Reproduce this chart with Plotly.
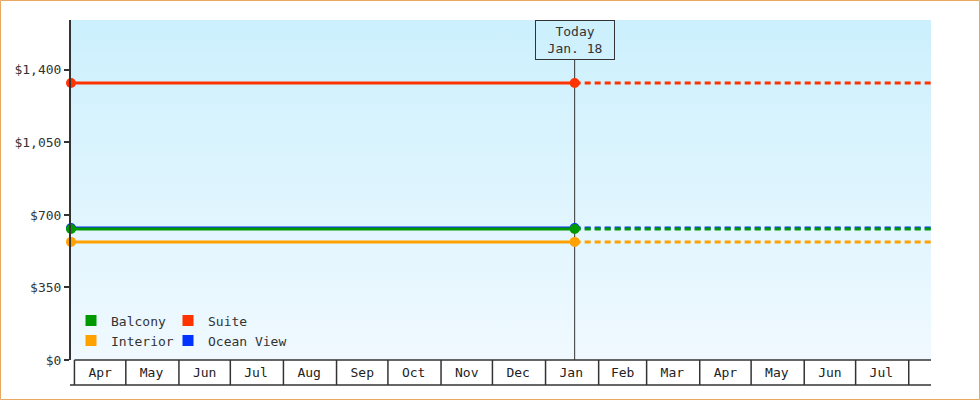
import base64
import plotly.graph_objects as go

# ---- data ----
series_names = ["Balcony", "Suite", "Interior", "Ocean View"]
series_colors = ["#009900", "#ff3300", "#ffa200", "#0033ff"]
series_values = [632, 1337, 570, 637]
start_date = "2024-03-30"
today_date = "2025-01-18"
end_date = "2025-08-14"
month_starts = ["2024-04-01", "2024-05-01", "2024-06-01", "2024-07-01", "2024-08-01",
                "2024-09-01", "2024-10-01", "2024-11-01", "2024-12-01", "2025-01-01",
                "2025-02-01", "2025-03-01", "2025-04-01", "2025-05-01", "2025-06-01",
                "2025-07-01", "2025-08-01"]
month_mids = ["2024-04-16", "2024-05-16", "2024-06-16", "2024-07-16", "2024-08-16",
              "2024-09-16", "2024-10-16", "2024-11-16", "2024-12-16", "2025-01-16",
              "2025-02-15", "2025-03-16", "2025-04-16", "2025-05-16", "2025-06-16",
              "2025-07-16"]
month_labels = ["Apr", "May", "Jun", "Jul", "Aug", "Sep", "Oct", "Nov", "Dec", "Jan",
                "Feb", "Mar", "Apr", "May", "Jun", "Jul"]
y_ticks = [0, 350, 700, 1050, 1400]
y_tick_labels = ["$0", "$350", "$700", "$1,050", "$1,400"]
y_max = 1641
today_label = "Today<br>Jan. 18"

FONT = "DejaVu Sans Mono"
W, H = 980, 400
ML, MR, MT, MB = 71, 49, 20, 40
PW, PH = W - ML - MR, H - MT - MB

fig = go.Figure()

# draw order: ocean view first so balcony covers it
draw_order = [3, 2, 1, 0]
for i in draw_order:
    name, color, v = series_names[i], series_colors[i], series_values[i]
    fig.add_trace(go.Scatter(
        x=[start_date, today_date], y=[v, v], mode="lines+markers",
        line=dict(color=color, width=3), marker=dict(color=color, size=10, symbol="circle"),
        showlegend=False, cliponaxis=False, hoverinfo="skip"))
    fig.add_trace(go.Scatter(
        x=[today_date, end_date], y=[v, v], mode="lines",
        line=dict(color=color, width=3, dash="6px,4px"),
        showlegend=False, cliponaxis=False, hoverinfo="skip"))

# legend entries: one legend per entry, arranged as a 2x2 grid
legend_ids = ["legend", "legend2", "legend3", "legend4"]
for i in range(4):
    fig.add_trace(go.Scatter(x=[None], y=[None], mode="markers", name=series_names[i],
                             marker=dict(color=series_colors[i], symbol="square", size=11),
                             legend=legend_ids[i]))

# gradient background
svg = ('<svg xmlns="http://www.w3.org/2000/svg" width="10" height="100" preserveAspectRatio="none">'
       '<defs><linearGradient id="g" x1="0" y1="0" x2="0" y2="1">'
       '<stop offset="0" stop-color="#ccf0fd"/><stop offset="1" stop-color="#f0f9ff"/>'
       '</linearGradient></defs><rect width="10" height="100" fill="url(#g)"/></svg>')
uri = "data:image/svg+xml;base64," + base64.b64encode(svg.encode()).decode()
fig.add_layout_image(dict(source=uri, xref="paper", yref="paper", x=0, y=1, sizex=1, sizey=1,
                          sizing="stretch", xanchor="left", yanchor="top", layer="below"))

shapes = []
box_h = -25 / PH
for d in month_starts:
    shapes.append(dict(type="line", xref="x", yref="paper", x0=d, x1=d, y0=0, y1=box_h,
                       line=dict(color="#333333", width=1.5)))
shapes.append(dict(type="line", xref="x", yref="paper", x0=month_starts[0], x1=end_date, y0=0, y1=0,
                   line=dict(color="#333333", width=1.5)))
shapes.append(dict(type="line", xref="paper", yref="paper", x0=-1 / PW, x1=1, y0=box_h, y1=box_h,
                   line=dict(color="#333333", width=1.5)))
shapes.append(dict(type="line", xref="x", yref="paper", x0=today_date, x1=today_date, y0=0,
                   y1=(360 - 60) / PH, line=dict(color="#333333", width=1), layer="below"))
shapes.append(dict(type="rect", xref="paper", yref="paper",
                   x0=(-ML + 0.5) / PW, x1=1 + (MR - 0.5) / PW,
                   y0=(-MB + 0.5) / PH, y1=1 + (MT - 0.5) / PH,
                   line=dict(color="#e8a860", width=1)))


def leg(x, y):
    return dict(orientation="h", x=x, y=y, xanchor="left", yanchor="top",
                bgcolor="rgba(0,0,0,0)", itemwidth=30,
                font=dict(family=FONT, size=13, color="#333333"))


col1, col2 = (71 - ML) / PW, (168 - ML) / PW
row1, row2 = (360 - 305.5) / PH, (360 - 325.5) / PH

fig.update_layout(
    width=W, height=H, margin=dict(l=ML, r=MR, t=MT, b=MB),
    paper_bgcolor="white", plot_bgcolor="rgba(0,0,0,0)",
    font=dict(family=FONT, size=13, color="#333333"),
    shapes=shapes,
    xaxis=dict(type="date", range=[start_date, end_date], showgrid=False, zeroline=False,
               showline=False, ticks="", tickmode="array", tickvals=month_mids,
               ticktext=month_labels, tickfont=dict(family=FONT, size=13, color="#222222"),
               ticklabelstandoff=3, fixedrange=True),
    yaxis=dict(range=[0, y_max], showgrid=False, zeroline=False, showline=True,
               linecolor="#333333", linewidth=2, ticks="outside", ticklen=5, tickwidth=2,
               tickcolor="#333333", tickmode="array", tickvals=y_ticks, ticktext=y_tick_labels,
               tickfont=dict(family=FONT, size=13, color="#333333"), fixedrange=True),
    legend=leg(col1, row1),
    legend2=leg(col2, row1),
    legend3=leg(col1, row2),
    legend4=leg(col2, row2),
    annotations=[dict(x=today_date, xref="x", y=1, yref="paper", yanchor="top", xanchor="center",
                      text=today_label, showarrow=False, bordercolor="#333333", borderwidth=1,
                      borderpad=3, width=72, height=32, bgcolor="rgba(0,0,0,0)",
                      font=dict(family=FONT, size=13, color="#333333"))],
)

fig.write_html("out.html", config={"displayModeBar": False},
               post_script="document.body.style.margin='0px';")
